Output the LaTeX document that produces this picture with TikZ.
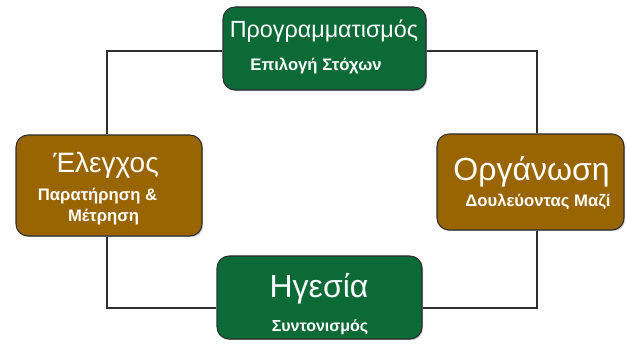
\documentclass[tikz,border=0pt]{standalone}
\usepackage{fontspec}
\setmainfont{Liberation Sans}
\usetikzlibrary{shadows}
\definecolor{boxgreen}{HTML}{0B6A36}
\definecolor{boxbrown}{HTML}{996500}
\definecolor{edgegray}{HTML}{2E2E2E}
\tikzset{
  card/.style={draw=edgegray, line width=0.8pt, rounded corners=9pt,
    drop shadow={shadow xshift=0.9pt, shadow yshift=-0.9pt, opacity=0.45}},
  greencard/.style={card, fill=boxgreen},
  browncard/.style={card, fill=boxbrown},
  ttl/.style={text=white, anchor=base, inner sep=0pt},
  sub/.style={text=white, anchor=base, inner sep=0pt, font=\fontsize{12.5}{14}\selectfont\bfseries},
  link/.style={draw=edgegray, line width=0.9pt}
}
\begin{document}
\begin{tikzpicture}[x=0.75pt, y=-0.75pt]
\useasboundingbox (0,0) rectangle (626,346);
\coordinate (tl) at (107,51);
\coordinate (tr) at (537,51);
\coordinate (bl) at (107,308);
\coordinate (br) at (537,308);
% boxes
\node[greencard, minimum width=203*0.75pt, minimum height=83*0.75pt] (top) at (324.5,48.5) {};
\node[browncard, minimum width=186*0.75pt, minimum height=101*0.75pt] (left) at (109,185.5) {};
\node[browncard, minimum width=187*0.75pt, minimum height=96*0.75pt] (right) at (530.5,182) {};
\node[greencard, minimum width=205*0.75pt, minimum height=83*0.75pt] (bottom) at (319.5,297.5) {};
% connectors
\draw[link] (top.west |- tl) -- (tl) -- (tl |- left.north);
\draw[link] (top.east |- tr) -- (tr) -- (tr |- right.north);
\draw[link] (tl |- left.south) -- (bl) -- (bottom.west |- bl);
\draw[link] (tr |- right.south) -- (br) -- (bottom.east |- br);
% texts
\node[ttl, font=\fontsize{17.5}{20}\selectfont] (t1) at (324,38) {Προγραμματισμός};
\node[sub] (s1) at (316,71) {Επιλογή Στόχων};
\node[ttl, font=\fontsize{21}{24}\selectfont] (t2) at (106,173) {Έλεγχος};
\node[sub] (s2a) at (97.5,200) {Παρατήρηση \&};
\node[sub] (s2b) at (103.5,222) {Μέτρηση};
\node[ttl, font=\fontsize{24}{27}\selectfont] (t3) at (531.5,181) {Οργάνωση};
\node[sub] (s3) at (538,207) {Δουλεύοντας Μαζί};
\node[ttl, font=\fontsize{24}{27}\selectfont] (t4) at (319,297) {Ηγεσία};
\node[sub, font=\fontsize{12}{14}\selectfont\bfseries] (s4) at (320,331) {Συντονισμός};
\end{tikzpicture}
\end{document}
